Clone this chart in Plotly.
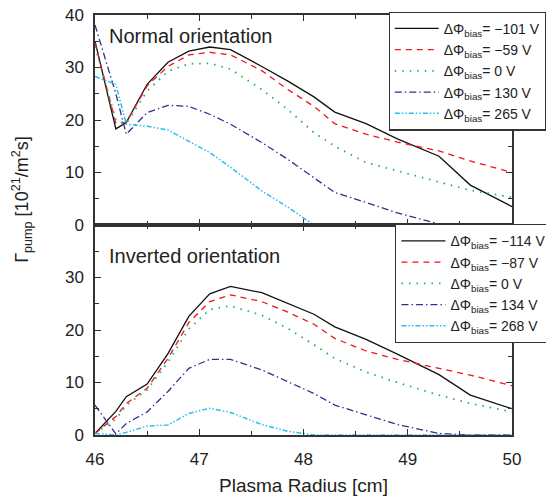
import plotly.graph_objects as go
from plotly.subplots import make_subplots

# ---------------- data ----------------
radius = [46.0, 46.2, 46.3, 46.5, 46.7, 46.9, 47.1, 47.3, 47.6, 47.85,
          48.1, 48.3, 48.6, 48.9, 49.3, 49.6, 50.0]

normal_labels = ["−101 V", "−59 V", "0 V", "130 V", "265 V"]
normal_m101 = [35.0, 18.3, 19.5, 26.8, 31.0, 33.1, 33.9, 33.4, 30.2, 27.4,
               24.4, 21.5, 19.3, 16.4, 13.1, 7.6, 3.5]
normal_m59 = [34.7, 19.4, 19.5, 26.5, 30.2, 32.4, 32.9, 32.4, 29.4, 25.8,
              22.6, 19.3, 17.3, 15.8, 14.1, 12.2, 10.0]
normal_0 = [34.0, 20.0, 19.3, 25.5, 29.3, 30.7, 30.8, 29.7, 25.8, 22.0,
            17.6, 15.0, 11.9, 10.3, 8.1, 6.6, 5.3]
normal_p130 = [38.1, 25.0, 17.3, 21.4, 22.8, 22.6, 21.1, 19.2, 15.7, 12.5,
               9.0, 6.2, 4.3, 2.3, 0.2, 0.0, 0.0]
normal_p265 = [28.3, 26.8, 19.2, 18.8, 18.1, 16.0, 13.8, 11.0, 6.5, 3.4,
               0.0, 0.0, 0.0, 0.0, 0.0, 0.0, 0.0]

inverted_labels = ["−114 V", "−87 V", "0 V", "134 V", "268 V"]
inverted_m114 = [0.3, 4.5, 7.3, 9.7, 15.5, 22.6, 26.9, 28.3, 27.1, 25.1,
                 23.0, 20.6, 18.2, 15.4, 11.5, 7.6, 5.0]
inverted_m87 = [0.3, 3.5, 6.0, 8.9, 14.6, 21.4, 25.4, 26.7, 25.4, 23.4,
                21.1, 18.4, 16.0, 14.4, 12.7, 11.4, 9.4]
inverted_0 = [0.3, 3.0, 5.7, 8.6, 13.9, 20.2, 23.9, 24.6, 22.8, 20.3,
              17.2, 14.6, 12.0, 10.0, 7.6, 6.0, 4.4]
inverted_p134 = [5.7, 0.2, 2.2, 4.4, 8.3, 12.7, 14.4, 14.4, 12.4, 10.2,
                 7.9, 5.7, 3.8, 2.0, 0.3, 0.0, 0.0]
inverted_p268 = [0.3, 0.0, 0.5, 1.7, 1.9, 4.1, 5.1, 4.3, 2.0, 0.7,
                 0.0, 0.0, 0.0, 0.0, 0.0, 0.0, 0.0]

x_ticks = [46, 47, 48, 49, 50]
y_ticks_top = [0, 10, 20, 30, 40]
y_ticks_bottom = [0, 10, 20, 30, 40]
y_ticktext_bottom = ["0", "10", "20", "30", ""]

# ---------------- styles ----------------
FONT = "Liberation Sans, Arial, Helvetica, sans-serif"
TXT = "#222222"
AX = "#333333"
styles = [
    dict(color="#111111", width=1.3, dash="solid"),
    dict(color="#f0141e", width=1.3, dash="6px,5px"),
    dict(color="#1fae6a", width=1.8, dash="1.5px,6px"),
    dict(color="#2e3192", width=1.3, dash="7px,3px,1.5px,3px"),
    dict(color="#29c0f0", width=1.5, dash="5px,2px,1.5px,2px,1.5px,2px"),
]

fig = make_subplots(rows=2, cols=1, shared_xaxes=True, vertical_spacing=0)

normal_series = [normal_m101, normal_m59, normal_0, normal_p130, normal_p265]
inverted_series = [inverted_m114, inverted_m87, inverted_0, inverted_p134, inverted_p268]

for vals, lab, st in zip(normal_series, normal_labels, styles):
    fig.add_trace(go.Scatter(x=radius, y=vals, mode="lines", line=st,
                             name="ΔΦ<sub>bias</sub>= " + lab, legend="legend"),
                  row=1, col=1)
for vals, lab, st in zip(inverted_series, inverted_labels, styles):
    fig.add_trace(go.Scatter(x=radius, y=vals, mode="lines", line=st,
                             name="ΔΦ<sub>bias</sub>= " + lab, legend="legend2"),
                  row=2, col=1)

axis_common = dict(showline=True, linecolor=AX, linewidth=1.5, mirror="ticks",
                   ticks="inside", ticklen=6, tickwidth=1.2, tickcolor=AX,
                   showgrid=False, zeroline=False,
                   tickfont=dict(family=FONT, size=17, color=TXT))

fig.update_xaxes(range=[46, 50], tickvals=x_ticks,
                 minor=dict(ticks="inside", dtick=0.5, tick0=46, ticklen=4,
                            tickwidth=1, tickcolor=AX),
                 **axis_common)
fig.update_xaxes(showticklabels=False, row=1, col=1)
fig.update_xaxes(ticklabelstandoff=8, row=2, col=1)

fig.update_yaxes(range=[0, 40],
                 minor=dict(ticks="inside", dtick=5, tick0=0, ticklen=4,
                            tickwidth=1, tickcolor=AX),
                 ticklabelstandoff=6, **axis_common)
fig.update_yaxes(tickvals=y_ticks_top, row=1, col=1)
fig.update_yaxes(tickvals=y_ticks_bottom, ticktext=y_ticktext_bottom, row=2, col=1)

legend_common = dict(bgcolor="white", bordercolor=AX, borderwidth=1.2,
                     font=dict(family=FONT, size=14, color=TXT),
                     xanchor="left", yanchor="top", itemwidth=44,
                     tracegroupgap=0)

fig.update_layout(
    width=546, height=500,
    margin=dict(l=95, r=34, t=15, b=65, autoexpand=False),
    paper_bgcolor="white", plot_bgcolor="white",
    showlegend=True,
    # short outward ticks on the bottom axis (ticks cross the axis line)
    xaxis3=dict(overlaying="x2", anchor="y2", range=[46, 50], tickvals=x_ticks,
                ticks="outside", ticklen=4, tickwidth=1.2, tickcolor=AX,
                showticklabels=False, showline=False, showgrid=False,
                zeroline=False, side="bottom"),
    legend=dict(x=0.704, y=1.008, **legend_common),
    legend2=dict(x=0.72, y=0.502, **legend_common),
    annotations=[
        dict(text="Normal orientation", xref="paper", yref="paper",
             x=0.028, y=0.951, xanchor="left", yanchor="middle", showarrow=False,
             font=dict(family=FONT, size=20, color=TXT)),
        dict(text="Inverted orientation", xref="paper", yref="paper",
             x=0.028, y=0.426, xanchor="left", yanchor="middle", showarrow=False,
             font=dict(family=FONT, size=20, color=TXT)),
        dict(text="Plasma Radius [cm]", xref="paper", yref="paper",
             x=0.5, y=-0.121, xanchor="center", yanchor="middle", showarrow=False,
             font=dict(family=FONT, size=19, color=TXT)),
        dict(text="Γ<sub>pump</sub> [10<sup>21</sup>/m<sup>2</sup>s]",
             xref="paper", yref="paper", x=-0.175, y=0.56,
             xanchor="center", yanchor="middle", textangle=-90, showarrow=False,
             font=dict(family=FONT, size=18, color=TXT)),
    ],
)

fig.write_html("out.html")
